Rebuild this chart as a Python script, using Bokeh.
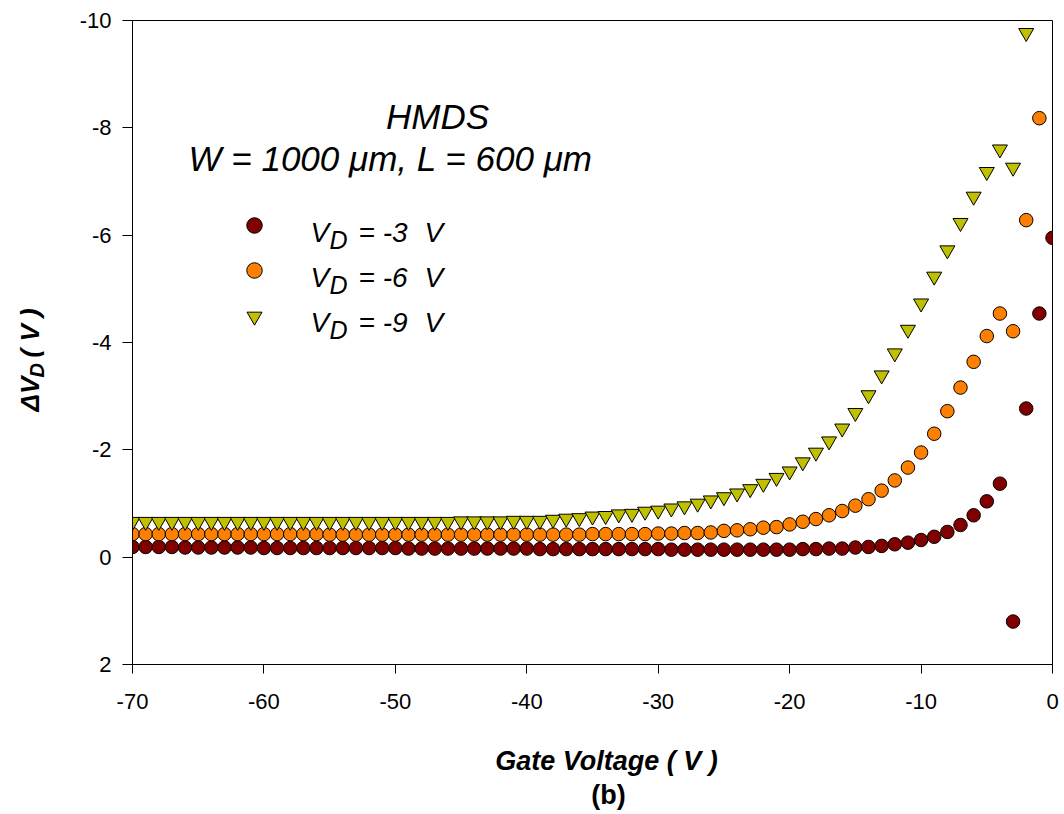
from bokeh.plotting import figure
from bokeh.models import Range1d, Label, FixedTicker
from bokeh.layouts import row, column
from bokeh.embed import file_html
from bokeh.resources import INLINE

# ---------------- data ----------------
gate_vd3 = [-70, -69, -68, -67, -66, -65, -64, -63, -62, -61,
            -60, -59, -58, -57, -56, -55, -54, -53, -52, -51, -50,
            -49, -48, -47, -46, -45, -44, -43, -42, -41, -40,
            -39, -38, -37, -36, -35, -34, -33, -32, -31, -30,
            -29, -28, -27, -26, -25, -24, -23, -22, -21, -20,
            -19, -18, -17, -16, -15, -14, -13, -12, -11, -10,
            -9, -8, -7, -6, -5, -4, -3, -2, -1, 0]
dvd_vd3 = [-0.19, -0.19, -0.19, -0.19, -0.18, -0.18, -0.18, -0.18, -0.18, -0.18,
           -0.17, -0.17, -0.17, -0.17, -0.17, -0.17, -0.17, -0.17, -0.17, -0.17, -0.17,
           -0.16, -0.16, -0.16, -0.16, -0.16, -0.16, -0.16, -0.16, -0.16, -0.16,
           -0.15, -0.15, -0.15, -0.15, -0.15, -0.15, -0.15, -0.15, -0.15, -0.15,
           -0.14, -0.14, -0.14, -0.14, -0.14, -0.14, -0.14, -0.14, -0.14, -0.14,
           -0.15, -0.15, -0.16, -0.16, -0.18, -0.19, -0.21, -0.24, -0.27, -0.32,
           -0.38, -0.47, -0.60, -0.78, -1.04, -1.37, 1.20, -2.77, -4.54, -5.95]

gate_vd6 = [-70, -69, -68, -67, -66, -65, -64, -63, -62, -61,
            -60, -59, -58, -57, -56, -55, -54, -53, -52, -51,
            -50, -49, -48, -47, -46, -45, -44, -43, -42, -41,
            -40, -39, -38, -37, -36, -35, -34, -33, -32, -31,
            -30, -29, -28, -27, -26, -25, -24, -23, -22, -21,
            -20, -19, -18, -17, -16, -15, -14, -13, -12, -11,
            -10, -9, -8, -7, -6, -5, -4, -3, -2, -1]
dvd_vd6 = [-0.43, -0.43, -0.43, -0.43, -0.43, -0.43, -0.43, -0.43, -0.43, -0.43,
           -0.43, -0.43, -0.43, -0.43, -0.43, -0.42, -0.42, -0.42, -0.42, -0.42,
           -0.42, -0.42, -0.42, -0.42, -0.42, -0.42, -0.42, -0.42, -0.42, -0.42,
           -0.42, -0.42, -0.42, -0.42, -0.42, -0.43, -0.43, -0.43, -0.43, -0.43,
           -0.44, -0.44, -0.45, -0.45, -0.46, -0.49, -0.50, -0.52, -0.55, -0.56,
           -0.61, -0.66, -0.71, -0.78, -0.86, -0.96, -1.08, -1.24, -1.43, -1.67,
           -1.95, -2.30, -2.72, -3.16, -3.64, -4.12, -4.54, -4.21, -6.28, -8.18]

gate_vd9 = [-70, -69, -68, -67, -66, -65, -64, -63, -62, -61,
            -60, -59, -58, -57, -56, -55, -54, -53, -52, -51,
            -50, -49, -48, -47, -46, -45, -44, -43, -42, -41,
            -40, -39, -38, -37, -36, -35, -34, -33, -32, -31,
            -30, -29, -28, -27, -26, -25, -24, -23, -22, -21,
            -20, -19, -18, -17, -16, -15, -14, -13, -12, -11,
            -10, -9, -8, -7, -6, -5, -4, -3, -2]
dvd_vd9 = [-0.66, -0.66, -0.66, -0.66, -0.66, -0.66, -0.66, -0.66, -0.66, -0.66,
           -0.66, -0.66, -0.66, -0.66, -0.66, -0.66, -0.66, -0.66, -0.66, -0.66,
           -0.66, -0.66, -0.66, -0.66, -0.66, -0.67, -0.67, -0.67, -0.67, -0.68,
           -0.68, -0.68, -0.70, -0.72, -0.73, -0.76, -0.77, -0.80, -0.81, -0.85,
           -0.87, -0.91, -0.95, -1.00, -1.06, -1.12, -1.19, -1.27, -1.37, -1.48,
           -1.60, -1.77, -1.95, -2.16, -2.40, -2.69, -3.02, -3.39, -3.80, -4.24,
           -4.73, -5.23, -5.72, -6.23, -6.72, -7.18, -7.60, -7.26, -9.77]

series_labels = ["= -3", "= -6", "= -9"]
x_ticks = [-70, -60, -50, -40, -30, -20, -10, 0]
x_tick_labels = ["-70", "-60", "-50", "-40", "-30", "-20", "-10", "0"]
y_ticks = [-10, -8, -6, -4, -2, 0, 2]
y_tick_labels = ["-10", "-8", "-6", "-4", "-2", "0", "2"]

# ---------------- layout (page pixels) ----------------
W, H = 1064, 814
LW = 60            # left strip holding the y-axis title
MH = 730           # height of the main figure
FL, FR, FT, FB = 132, 1052, 20, 664
XMIN, XMAX = -70, 0
YTOP, YBOT = -10, 2
FONT = "Liberation Sans"

c_vd3 = "#800000"
c_vd6 = "#FF8000"
c_vd9 = "#C0C000"


def dx(px):
    return XMIN + (px - FL) / (FR - FL) * (XMAX - XMIN)


def dy(py):
    return YTOP + (py - FT) / (FB - FT) * (YBOT - YTOP)


def blank(w, h, xr, yr, bl, br, bt, bb):
    f = figure(width=w, height=h, x_range=xr, y_range=yr, title=None,
               output_backend="svg", toolbar_location=None,
               x_axis_location=None, y_axis_location=None,
               min_border_left=bl, min_border_right=br,
               min_border_top=bt, min_border_bottom=bb)
    f.outline_line_color = None
    f.background_fill_color = "white"
    f.border_fill_color = "white"
    f.grid.visible = False
    return f


def make_label(fig, x, y, text, size, style="italic", align="left", angle=0.0):
    fig.add_layout(Label(x=x, y=y, text=text, text_font=FONT,
                         text_font_size=f"{size}px", text_font_style=style,
                         text_align=align, text_baseline="alphabetic",
                         text_color="black", angle=angle, angle_units="deg"))


# ---------------- main plot ----------------
p = figure(width=W - LW, height=MH, x_range=Range1d(XMIN, XMAX), y_range=Range1d(YBOT, YTOP),
           title=None, output_backend="svg", toolbar_location=None,
           min_border_left=FL - LW, min_border_right=W - FR,
           min_border_top=FT, min_border_bottom=MH - FB)
p.background_fill_color = "white"
p.border_fill_color = "white"
p.outline_line_color = "black"
p.outline_line_width = 1
p.grid.visible = False

for ax in (p.xaxis[0], p.yaxis[0]):
    ax.axis_line_color = "black"
    ax.major_tick_line_color = "black"
    ax.major_tick_in = 0
    ax.minor_tick_out = 0
    ax.minor_tick_in = 0
    ax.major_label_text_font = FONT
    ax.major_label_text_font_size = "22px"
    ax.major_label_text_color = "black"

p.xaxis.ticker = FixedTicker(ticks=x_ticks)
p.xaxis.major_label_overrides = dict(zip(x_ticks, x_tick_labels))
p.xaxis.major_tick_out = 9
p.xaxis.major_label_standoff = 20

p.yaxis.ticker = FixedTicker(ticks=y_ticks)
p.yaxis.major_label_overrides = dict(zip(y_ticks, y_tick_labels))
p.yaxis.major_tick_out = 10
p.yaxis.major_label_standoff = 11

p.scatter(gate_vd3, dvd_vd3, marker="circle", size=13.5,
          fill_color=c_vd3, line_color="black", line_width=1)
p.scatter(gate_vd6, dvd_vd6, marker="circle", size=13.5,
          fill_color=c_vd6, line_color="black", line_width=1)
p.scatter(gate_vd9, dvd_vd9, marker="inverted_triangle", size=15,
          fill_color=c_vd9, line_color="black", line_width=1)

# legend (manual, to allow the subscript)
leg_x = 254
leg_rows = [225, 270, 316]
leg_base = [232, 277, 322]
leg_markers = ["circle", "circle", "inverted_triangle"]
leg_colors = [c_vd3, c_vd6, c_vd9]
leg_sizes = [15.5, 15.5, 15]
for yy, mk, col, sz in zip(leg_rows, leg_markers, leg_colors, leg_sizes):
    p.scatter([dx(leg_x)], [dy(yy)], marker=mk, size=sz,
              fill_color=col, line_color="black", line_width=1)

for base, lab in zip(leg_base, series_labels):
    make_label(p, dx(310), dy(base), "V", 28)
    make_label(p, dx(329), dy(base + 7), "D", 25)
    make_label(p, dx(358), dy(base), lab, 28)
    make_label(p, dx(424), dy(base), "V", 28)

make_label(p, dx(437), dy(116), "HMDS", 35, align="center")
make_label(p, dx(188), dy(158), "W = 1000 \u03bcm, L = 600 \u03bcm", 35)

# ---------------- left strip: y-axis title (page px coordinates) ----------------
left = blank(LW, H, Range1d(0, LW), Range1d(FB, FT), 0, 0, FT, H - FB)
make_label(left, 29, 411, "\u0394V", 26, style="bold italic", angle=90)
make_label(left, 36, 377, "D", 20, style="bold italic", angle=90)
make_label(left, 29, 357, "( V )", 26, style="bold italic", angle=90)

# ---------------- bottom strip: x-axis title and panel tag (page px) ----------------
bottom = blank(W - LW, H - MH, Range1d(FL, FR), Range1d(H, MH), FL - LW, W - FR, 0, 0)
make_label(bottom, 606, 760, "Gate Voltage ( V )", 27, style="bold italic", align="center")
make_label(bottom, 608, 794, "(b)", 27, style="bold", align="center")

layout = row(left, column(p, bottom))
open("out.html", "w").write(file_html(layout, INLINE))
